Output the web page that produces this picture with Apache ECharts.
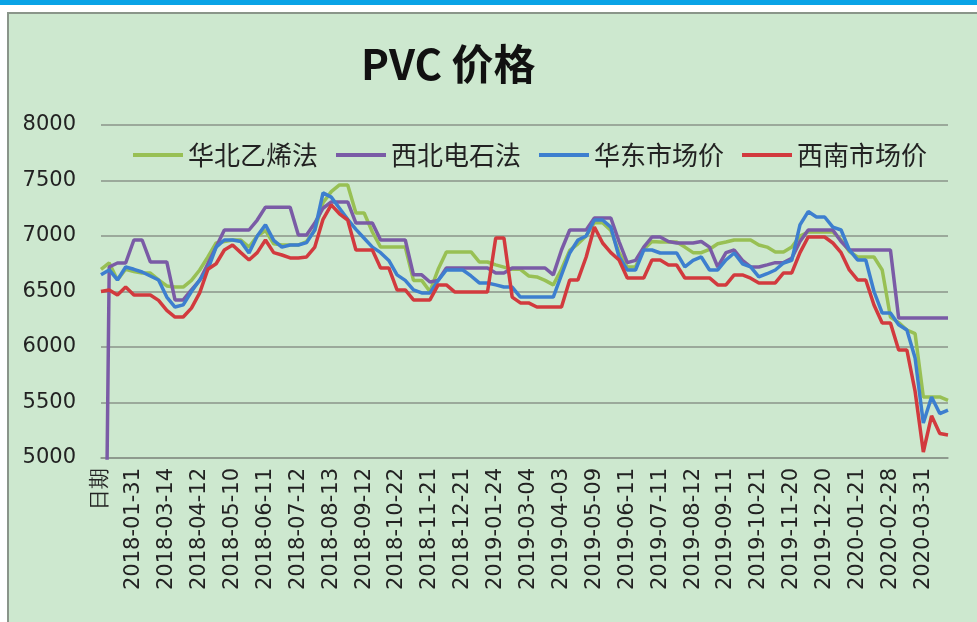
<!DOCTYPE html>
<html>
<head>
<meta charset="utf-8">
<script src="https://cdn.jsdelivr.net/npm/echarts@6/dist/echarts.min.js"></script>
<style>
  body { margin: 0; background: #fff; }
  #bar { position: absolute; left: 0; top: 0; width: 977px; height: 5px; background: #0aa3e6; }
  #frame { position: absolute; left: 7px; top: 12px; width: 970px; height: 610px;
           background: #cde8cf; border-left: 2px solid #8a958a; border-top: 2px solid #8a958a; box-sizing: border-box; }
  #chart { position: absolute; left: 0; top: 0; width: 977px; height: 622px; }
</style>
</head>
<body>
<div id="bar"></div>
<div id="frame"></div>
<div id="chart"></div>
<script>
// 横轴标签（每个标签之后有3个不显示的日期）
const tickLabels = ['日期', '2018-01-31', '2018-03-14', '2018-04-12', '2018-05-10', '2018-06-11',
  '2018-07-12', '2018-08-13', '2018-09-12', '2018-10-22', '2018-11-21', '2018-12-21',
  '2019-01-24', '2019-03-04', '2019-04-03', '2019-05-09', '2019-06-11', '2019-07-11',
  '2019-08-12', '2019-09-11', '2019-10-21', '2019-11-20', '2019-12-20', '2020-01-21',
  '2020-02-28', '2020-03-31'];

const seriesNames = ['华北乙烯法', '西北电石法', '华东市场价', '西南市场价'];

// 华北乙烯法
const huabeiYixi = [
  6700, 6757, 6604, 6700, 6680, 6667, 6667, 6604, 6550, 6540,
  6540, 6600, 6694, 6811, 6937, 6950, 6964, 6964, 6900, 7000,
  7050, 6930, 6919, 6919, 6919, 6950, 7054, 7300, 7400, 7460,
  7460, 7207, 7207, 7036, 6900, 6900, 6900, 6900, 6600, 6600,
  6500, 6700, 6856, 6856, 6856, 6856, 6766, 6766, 6740, 6720,
  6700, 6700, 6640, 6631, 6600, 6560, 6700, 6870, 6930, 7000,
  7120, 7120, 7050, 6850, 6720, 6720, 6880, 6950, 6946, 6946,
  6946, 6900, 6850, 6850, 6880, 6930, 6946, 6964, 6964, 6964,
  6919, 6900, 6856, 6856, 6900, 7000, 7036, 7036, 7036, 7036,
  6964, 6860, 6811, 6811, 6811, 6694, 6270, 6220, 6153, 6120,
  5550, 5550, 5550, 5520
];

// 西北电石法（首个点是表头"日期"那一行，值为0）
const xibeiDianshi = [
  0, 6721, 6757, 6757, 6964, 6964, 6766, 6766, 6766, 6424,
  6424, 6514, 6600, 6750, 6900, 7054, 7054, 7054, 7054, 7144,
  7260, 7260, 7260, 7260, 7009, 7009, 7117, 7250, 7307, 7307,
  7307, 7117, 7117, 7117, 6964, 6964, 6964, 6964, 6650, 6650,
  6586, 6600, 6712, 6712, 6712, 6712, 6712, 6712, 6667, 6667,
  6712, 6712, 6712, 6712, 6712, 6650, 6874, 7054, 7054, 7054,
  7162, 7162, 7162, 6950, 6760, 6780, 6900, 6991, 6991, 6950,
  6937, 6937, 6937, 6950, 6900, 6721, 6850, 6874, 6780, 6721,
  6721, 6740, 6760, 6760, 6800, 6950, 7054, 7054, 7054, 7054,
  6950, 6874, 6874, 6874, 6874, 6874, 6874, 6261, 6261, 6261,
  6261, 6261, 6261, 6261
];

// 华东市场价
const huadong = [
  6650, 6694, 6604, 6721, 6700, 6676, 6640, 6604, 6450, 6360,
  6380, 6500, 6604, 6700, 6900, 6964, 6964, 6950, 6847, 7000,
  7100, 6960, 6900, 6919, 6919, 6940, 7054, 7388, 7350, 7250,
  7150, 7060, 6980, 6900, 6850, 6780, 6650, 6600, 6514, 6487,
  6487, 6600, 6694, 6694, 6694, 6640, 6577, 6577, 6560, 6540,
  6540, 6450, 6450, 6450, 6450, 6450, 6650, 6847, 6964, 7000,
  7144, 7144, 7080, 6811, 6694, 6694, 6874, 6874, 6847, 6847,
  6847, 6721, 6780, 6811, 6694, 6694, 6784, 6847, 6750, 6721,
  6631, 6660, 6694, 6757, 6780, 7100, 7220, 7171, 7171, 7080,
  7054, 6874, 6784, 6784, 6500, 6306, 6306, 6200, 6153, 5900,
  5315, 5550, 5400, 5432
];

// 西南市场价
const xinan = [
  6500, 6514, 6469, 6540, 6469, 6469, 6469, 6420, 6330, 6270,
  6270, 6350, 6487, 6700, 6750, 6874, 6919, 6850, 6784, 6850,
  6964, 6850, 6829, 6802, 6802, 6811, 6900, 7150, 7280, 7200,
  7144, 6874, 6874, 6874, 6712, 6712, 6514, 6514, 6424, 6424,
  6424, 6559, 6559, 6496, 6496, 6496, 6496, 6496, 6982, 6982,
  6450, 6397, 6397, 6360, 6360, 6360, 6360, 6604, 6604, 6811,
  7081, 6937, 6850, 6784, 6622, 6622, 6622, 6784, 6784, 6739,
  6739, 6622, 6622, 6622, 6622, 6559, 6559, 6649, 6649, 6620,
  6577, 6577, 6577, 6667, 6667, 6850, 6991, 6991, 6991, 6937,
  6850, 6694, 6604, 6604, 6379, 6216, 6216, 5973, 5973, 5600,
  5054, 5380, 5220, 5207
];

const colors = ['#98c054', '#7a5ba6', '#3d7fcf', '#d23a3e'];

// 类目：每个标签后补3个空类目
const categories = [];
tickLabels.forEach(function (lab) {
  categories.push(lab, '', '', '');
});
categories.length = huadong.length;

const chart = echarts.init(document.getElementById('chart'));

const option = {
  animation: false,
  backgroundColor: 'transparent',
  color: colors,
  title: {
    text: 'PVC 价格',
    left: 356,
    top: 38,
    textStyle: { fontFamily: 'Noto Sans CJK SC', fontSize: 42, fontWeight: 'bold', color: '#111' }
  },
  legend: {
    data: seriesNames,
    left: 128,
    top: 137,
    icon: 'rect',
    itemWidth: 50,
    itemHeight: 4,
    itemGap: 18,
    textStyle: { fontFamily: 'Noto Sans CJK SC', fontSize: 26, color: '#222' }
  },
  grid: { left: 101, right: 29, top: 125, bottom: 164, containLabel: false },
  xAxis: {
    type: 'category',
    data: categories,
    boundaryGap: false,
    axisLine: { lineStyle: { color: '#8a958a', width: 1.5 } },
    axisTick: { show: false },
    axisLabel: {
      interval: 3,
      rotate: 90,
      margin: 10,
      fontFamily: 'DejaVu Sans',
      fontSize: 21,
      color: '#222'
    },
    splitLine: { show: false }
  },
  yAxis: {
    type: 'value',
    min: 5000,
    max: 8000,
    interval: 500,
    axisLine: { show: false },
    axisTick: { show: false },
    axisLabel: {
      margin: 25,
      fontFamily: 'DejaVu Sans',
      fontSize: 21,
      color: '#222',
      formatter: function (v) { return String(v); }
    },
    splitLine: { lineStyle: { color: '#8a958a', width: 1.5 } }
  },
  series: [
    { name: seriesNames[0], type: 'line', data: huabeiYixi },
    { name: seriesNames[1], type: 'line', data: xibeiDianshi },
    { name: seriesNames[2], type: 'line', data: huadong },
    { name: seriesNames[3], type: 'line', data: xinan }
  ].map(function (s) {
    s.symbol = 'none';
    s.lineStyle = { width: 3.5 };
    return s;
  })
};

chart.setOption(option);
</script>
</body>
</html>
